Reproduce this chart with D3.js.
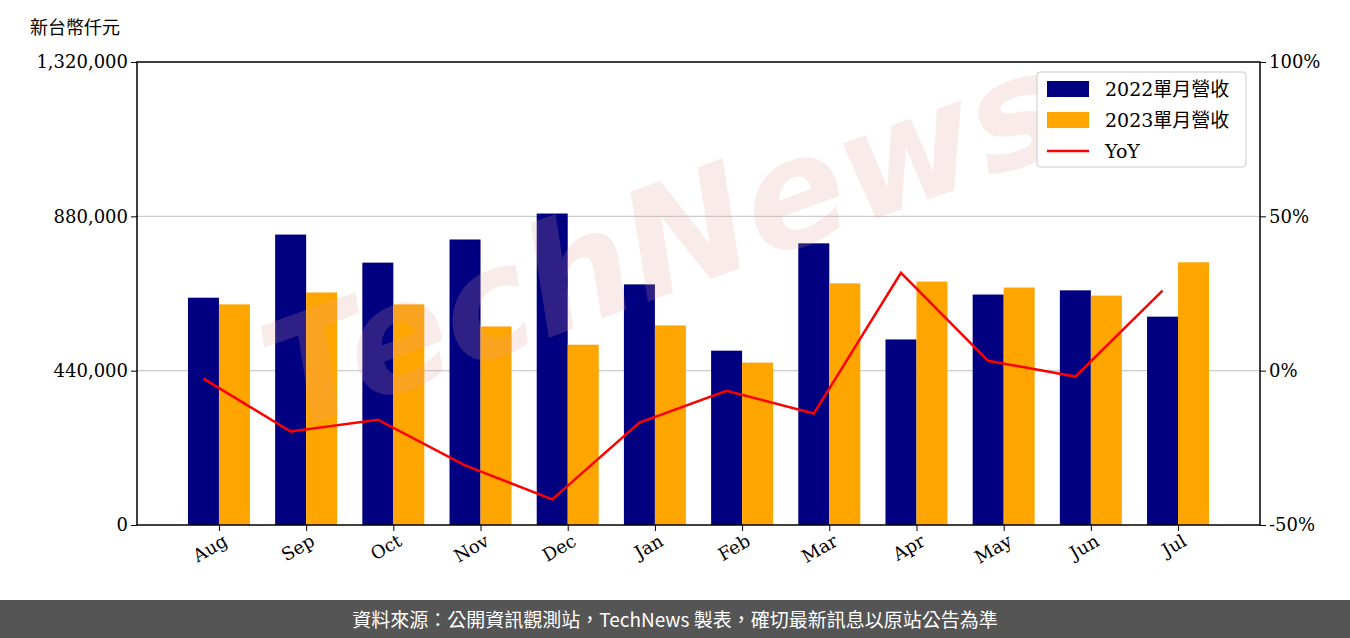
<!DOCTYPE html>
<html>
<head>
<meta charset="utf-8">
<style>
body {margin:0; background:white;}
svg text {font-family:"DejaVu Serif", serif;}
</style>
<script src="https://d3js.org/d3.v7.min.js"></script>
</head>
<body>
<svg id="chart" width="1350" height="638"></svg>
<script>
const months = ["Aug","Sep","Oct","Nov","Dec","Jan","Feb","Mar","Apr","May","Jun","Jul"];
const rev2022 = [648000,828000,748000,814000,888000,686000,497000,803000,529000,657000,669000,594000];
const rev2023 = [629000,663000,629000,566000,514000,569000,463000,689000,694000,677000,654000,749000];
const yoy = [-2.6,-19.7,-15.9,-30.7,-41.7,-16.8,-6.5,-13.9,31.7,3.2,-1.9,25.9];
const leftTicks = [0,440000,880000,1320000];
const rightTicks = [-50,0,50,100];

const svg = d3.select("#chart");
const m = {left:137, right:90, top:62, bottom:113};
const W = 1350 - m.left - m.right, H = 638 - m.top - m.bottom;
const g = svg.append("g").attr("transform",`translate(${m.left},${m.top})`);

const x = d3.scalePoint().domain(months).range([0,W]).padding(0.94);
const y = d3.scaleLinear().domain([0,1320000]).range([H,0]);
const y2 = d3.scaleLinear().domain([-50,100]).range([H,0]);
const bw = 31;

// watermark
svg.append("text").attr("transform","translate(680,290) rotate(-20)")
  .attr("text-anchor","middle").attr("font-size",150).attr("font-style","italic")
  .attr("font-weight","bold").attr("fill","#e8a0a0").attr("opacity",0.2)
  .style("font-family","DejaVu Sans").text("TechNews");

g.selectAll(".grid").data(leftTicks.slice(1,3)).join("line")
  .attr("x1",0).attr("x2",W).attr("y1",d=>y(d)).attr("y2",d=>y(d))
  .attr("stroke","#ccc").attr("stroke-width",1.2);

g.selectAll(".b1").data(rev2022).join("rect")
  .attr("x",(d,i)=>x(months[i])-bw).attr("width",bw)
  .attr("y",d=>y(d)).attr("height",d=>H-y(d)).attr("fill","#000080");
g.selectAll(".b2").data(rev2023).join("rect")
  .attr("x",(d,i)=>x(months[i])).attr("width",bw)
  .attr("y",d=>y(d)).attr("height",d=>H-y(d)).attr("fill","#ffa500");

g.append("path").datum(yoy)
  .attr("d",d3.line().x((d,i)=>x(months[i])-bw/2).y(d=>y2(d)))
  .attr("fill","none").attr("stroke","red").attr("stroke-width",2.5);

g.append("rect").attr("width",W).attr("height",H).attr("fill","none").attr("stroke","black").attr("stroke-width",1.5);

const fmt = d3.format(",");
const ax = g.append("g").call(d3.axisLeft(y).tickValues(leftTicks).tickFormat(fmt).tickSizeOuter(0));
ax.selectAll("text").attr("font-size",18).style("font-family","DejaVu Serif");
const ax2 = g.append("g").attr("transform",`translate(${W},0)`)
  .call(d3.axisRight(y2).tickValues(rightTicks).tickFormat(d=>d+"%").tickSizeOuter(0));
ax2.selectAll("text").attr("font-size",18).style("font-family","DejaVu Serif");
const axb = g.append("g").attr("transform",`translate(0,${H})`).call(d3.axisBottom(x).tickSizeOuter(0));
axb.selectAll("text").attr("font-size",18).style("font-family","DejaVu Serif")
  .attr("text-anchor","end").attr("dx","-0.1em").attr("dy","0.7em").attr("transform","rotate(-30)");
[ax,ax2,axb].forEach(a=>a.select(".domain").remove());

svg.append("text").attr("x",30).attr("y",34).attr("font-size",18)
  .style("font-family","Noto Sans CJK TC").text("新台幣仟元");

// legend
const lg = svg.append("g").attr("transform","translate(1037,72)");
lg.append("rect").attr("width",209).attr("height",95).attr("rx",3)
  .attr("fill","white").attr("fill-opacity",0.85).attr("stroke","#ccc");
const items = [["2022單月營收","#000080","bar"],["2023單月營收","#ffa500","bar"],["YoY","red","line"]];
items.forEach((it,i)=>{
  const yy = 17 + i*31;
  if (it[2]==="bar") lg.append("rect").attr("x",10).attr("y",yy-8).attr("width",42).attr("height",16).attr("fill",it[1]);
  else lg.append("line").attr("x1",10).attr("x2",52).attr("y1",yy).attr("y2",yy).attr("stroke",it[1]).attr("stroke-width",2.5);
  lg.append("text").attr("x",68).attr("y",yy+7).attr("font-size",19)
    .style("font-family","'DejaVu Serif','Noto Sans CJK TC'").text(it[0]);
});

svg.append("rect").attr("x",0).attr("y",600).attr("width",1350).attr("height",38).attr("fill","#555");
svg.append("text").attr("x",675).attr("y",627).attr("text-anchor","middle").attr("font-size",19)
  .attr("fill","white").style("font-family","Noto Sans CJK TC")
  .text("資料來源：公開資訊觀測站，TechNews 製表，確切最新訊息以原站公告為準");
</script>
</body>
</html>
